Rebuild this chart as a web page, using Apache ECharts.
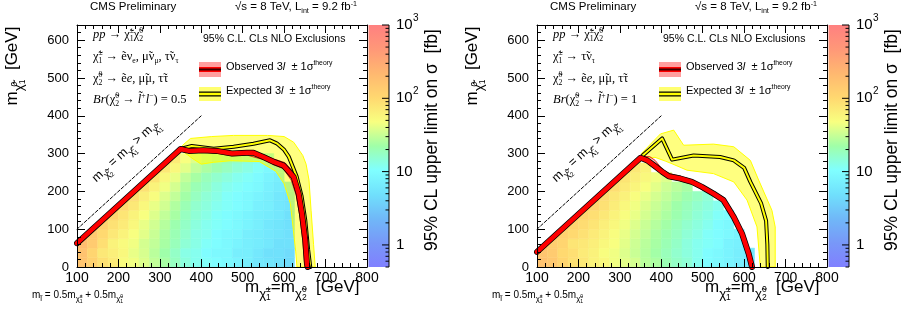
<!DOCTYPE html>
<html>
<head>
<meta charset="utf-8">
<script src="https://cdn.jsdelivr.net/npm/echarts@6/dist/echarts.min.js"></script>
<style>
  html, body { margin: 0; padding: 0; background: #fff; }
  #chart { width: 912px; height: 322px; }
</style>
</head>
<body>
<div id="chart"></div>
<script>
// grid of the limit scan: lower bin edges (GeV)
const STEP = 25;
const massX = [100,125,150,175,200,225,250,275,300,325,350,375,400,425,450,475,500,525,550,575,600];
const massY = [0,25,50,75,100,125,150,175,200,225,250,275,300];
const _ = null;

// 95% CL upper limit on sigma [fb], rows = massY, cols = massX  (Br = 0.5)
const limitsBr05 = [
  [160,120, 85, 70, 52, 45, 38, 30, 24, 18, 14, 12, 11, 10,  9,  8,  7,  6,5.5,  5,4.5],
  [170,110, 75, 65, 55, 42, 36, 28, 22, 17, 13, 12, 10,  9,  9,  7,  7,  6,  5,  5,4.5],
  [200,140, 90, 60, 52, 45, 35, 30, 24, 19, 15, 13, 11, 10,  9,  8,  7,6.5,  6,  5,  5],
  [230,150,100, 75, 60, 48, 40, 32, 25, 20, 16, 13, 12, 10,  9,8.5,  7,6.5,  6,5.5,  5],
  [ _, 180,120, 85, 70, 55, 42, 34, 27, 21, 17, 14, 12, 11, 10,  9,  8,  7,  6,5.5,  5],
  [ _,  _, 160,110, 80, 60, 48, 38, 30, 24, 18, 15, 13, 11, 10,  9,  8,  7,6.5,  6,  5],
  [ _,  _,  _, 150,100, 75, 55, 42, 34, 26, 20, 16, 14, 12, 11, 10,  9,7.5,  7,  6,5.5],
  [ _,  _,  _,  _, 140, 95, 65, 50, 38, 30, 23, 18, 15, 13, 11, 10,  9,  8,  7,  6,5.5],
  [ _,  _,  _,  _,  _, 130, 85, 60, 45, 35, 26, 20, 17, 14, 12, 11, 10,  9,7.5,6.5,  6],
  [ _,  _,  _,  _,  _,  _, 120, 80, 55, 42, 30, 24, 19, 16, 14, 12, 11,9.5,  8,  7,  _],
  [ _,  _,  _,  _,  _,  _,  _, 110, 75, 55, 40, 30, 25, 21, 18, 15, 13, 11,  9,  8,  _],
  [ _,  _,  _,  _,  _,  _,  _,  _, 100, 70, 48, 38, 30, 25, 21, 18, 15, 13, 11,  _,  _],
  [ _,  _,  _,  _,  _,  _,  _,  _,  _,  90,  _,  _,  _,  _,  _,  _,  _,  _,  _,  _,  _]
];

// same, Br = 1
const limitsBr1 = [
  [170,150,110, 85, 75, 60, 55, 45, 40, 35, 28, 25, 20, 17, 15, 12, 10,  9,  8,  7,  6],
  [160,140,100, 90, 70, 62, 50, 45, 38, 32, 27, 23, 19, 16, 14, 12, 10,  9,  8,  7,  6],
  [180,130,110, 80, 75, 65, 55, 48, 40, 33, 28, 24, 20, 17, 14, 12, 11, 10,  8,7.5,  _],
  [ _, 170,120,100, 85, 70, 60, 50, 42, 35, 30, 25, 21, 18, 15, 13, 11, 10,  9,  8,  _],
  [ _,  _, 150,110, 95, 80, 65, 55, 45, 38, 32, 27, 23, 19, 16, 14, 12, 10,  9,  _,  _],
  [ _,  _,  _, 140,110, 90, 75, 60, 50, 42, 35, 30, 25, 21, 18, 15, 13, 11, 10,  _,  _],
  [ _,  _,  _,  _, 130,105, 85, 68, 55, 45, 38, 32, 27, 22, 19, 16, 14, 12,  _,  _,  _],
  [ _,  _,  _,  _,  _, 120, 95, 75, 62, 50, 42, 35, 30, 25, 21, 18, 15,  _,  _,  _,  _],
  [ _,  _,  _,  _,  _,  _, 110, 90, 70, 58, 48, 40, 33, 28, 24,  _,  _,  _,  _,  _,  _],
  [ _,  _,  _,  _,  _,  _,  _, 100, 80, 65, 55, 45, 38,  _,  _,  _,  _,  _,  _,  _,  _],
  [ _,  _,  _,  _,  _,  _,  _,  _,  95, 75, 60,  _,  _,  _,  _,  _,  _,  _,  _,  _,  _],
  [ _,  _,  _,  _,  _,  _,  _,  _,  _,  85,  _,  _,  _,  _,  _,  _,  _,  _,  _,  _,  _],
  [ _,  _,  _,  _,  _,  _,  _,  _,  _,   _,  _,  _,  _,  _,  _,  _,  _,  _,  _,  _,  _]
];

// kinematic edge of the scan: m(chi1) = m(chi2) - offset
const diagOffsetBr05 = 37.5;
const diagOffsetBr1 = 60;

// exclusion contours [m(chi2), m(chi1)]
const obsBr05 = [[100,63],[350,312],[370,307],[405,309],[438,307],[474,300],[510,302],[526,302],[550,291],[575,278],[599,268],[623,238],[635,194],[643,141],[651,71],[655,9],[657,0]];
const obsBr05Low = [[355,305],[405,303],[440,300],[475,294],[510,296],[550,284],[575,270],[598,260],[617,230],[629,190],[637,140],[645,70],[650,0]];
const obsBr05High = [[352,316],[370,312],[405,314],[440,312],[475,305],[510,307],[550,297],[577,285],[602,276],[627,246],[640,198],[648,142],[656,72],[662,0]];
const expBr05 = [[350,312],[377,320],[430,313],[478,318],[526,326],[566,335],[582,327],[600,310],[611,292],[630,240],[642,188],[651,124],[658,45],[663,0]];
const expBr05Up = [[355,322],[374,340],[425,345],[478,348],[560,348],[600,345],[623,330],[645,295],[653,272],[660,230],[665,150],[671,60],[675,0]];
const expBr05Down = [[350,310],[380,286],[400,272],[430,277],[470,281],[540,279],[580,253],[600,220],[615,168],[622,100],[628,40],[631,0]];

const obsBr1 = [[100,40],[350,289],[366,282],[382,269],[402,252],[418,240],[446,234],[474,225],[498,212],[526,194],[550,177],[575,132],[595,88],[611,35],[619,0]];
const obsBr1Low = [[365,276],[382,262],[402,245],[420,234],[446,228],[474,219],[498,205],[526,188],[550,170],[572,128],[591,85],[606,33],[614,0]];
const obsBr1High = [[352,292],[372,292],[385,282],[403,258],[420,247],[446,240],[474,231],[498,218],[526,200],[552,183],[578,137],[598,92],[614,38],[623,0]];
const expBr1 = [[355,295],[402,340],[426,284],[478,295],[542,291],[575,282],[600,262],[615,225],[641,168],[653,122],[656,60],[657,0]];
const expBr1Up = [[352,300],[398,352],[430,362],[454,322],[526,325],[575,318],[615,282],[635,230],[667,150],[675,106],[675,0]];
const expBr1Down = [[360,287],[385,290],[410,280],[426,273],[462,256],[526,247],[575,225],[607,177],[631,106],[636,40],[639,0]];

const diagonalLine = [[100,100],[400,400]];

// colour scale (log10 of sigma limit)
const CB_MIN = Math.log10(0.5);
const CB_MAX = 3;
const PALETTE = ['#8080ff','#7898f8','#70b8f8','#70e0fc','#80ffff','#a0ffa8','#f8ff80','#ffd870','#ffb870','#ff9878','#ff8080'];
const cbTickValues = [0.5,0.6,0.7,0.8,0.9,1,2,3,4,5,6,7,8,9,10,20,30,40,50,60,70,80,90,100,200,300,400,500,600,700,800,900,1000];
const cbLabelValues = [1, 10, 100, 1000];
const cbLabelBase = ['1', '10', '10', '10'];
const cbLabelExp = ['', '', '2', '3'];

const SANS = '"Liberation Sans", Arial, sans-serif';
const SERIF = '"Liberation Serif", "DejaVu Serif", serif';

function cells(rows) {
  const out = [];
  rows.forEach((row, j) => row.forEach((v, i) => {
    if (v != null) out.push([massX[i], massY[j], Math.log10(v)]);
  }));
  return out;
}

// keep the part of a polygon that lies below y = x - d
function clipBelowDiagonal(pts, d) {
  const f = p => p[0] - d - p[1];
  const out = [];
  for (let i = 0; i < pts.length; i++) {
    const a = pts[i], b = pts[(i + 1) % pts.length];
    const fa = f(a), fb = f(b);
    if (fa >= 0) out.push(a);
    if ((fa >= 0) !== (fb >= 0)) {
      const t = fa / (fa - fb);
      out.push([a[0] + t * (b[0] - a[0]), a[1] + t * (b[1] - a[1])]);
    }
  }
  return out;
}

function heatSeries(rows, axis, diag) {
  return {
    type: 'custom', xAxisIndex: axis, yAxisIndex: axis, data: cells(rows),
    encode: { x: 0, y: 1 }, clip: true, silent: true, z: 1,
    renderItem(params, api) {
      const x0 = api.value(0), y0 = api.value(1);
      const poly = clipBelowDiagonal([[x0, y0], [x0 + STEP, y0], [x0 + STEP, y0 + STEP], [x0, y0 + STEP]], diag);
      if (poly.length < 3) return null;
      const color = api.visual('color');
      return { type: 'polygon', shape: { points: poly.map(p => api.coord(p)) },
        style: { fill: color, stroke: color, lineWidth: 0.5 } };
    }
  };
}

function bandSeries(upper, lower, axis, fill, stroke, z) {
  const pts = upper.concat(lower.slice().reverse());
  return {
    type: 'custom', xAxisIndex: axis, yAxisIndex: axis, data: pts,
    encode: { x: 0, y: 1 }, clip: true, silent: true, z,
    renderItem(params, api) {
      if (params.dataIndex !== 0) return null;
      return { type: 'polygon', shape: { points: pts.map(p => api.coord(p)) },
        style: { fill, stroke, lineWidth: 1 } };
    }
  };
}

function lineSeries(data, axis, color, width, z, type) {
  return {
    type: 'line', xAxisIndex: axis, yAxisIndex: axis, data, symbol: 'none',
    silent: true, z, clip: true,
    lineStyle: { color, width, type: type || 'solid', join: 'round', cap: 'round' }
  };
}

function colorbarSeries(axis) {
  return {
    type: 'custom', xAxisIndex: axis, yAxisIndex: axis, data: [[0, CB_MIN]], silent: true, z: 1,
    renderItem(params, api) {
      const a = api.coord([0, CB_MIN]), b = api.coord([1, CB_MAX]);
      const grad = new echarts.graphic.LinearGradient(0, 1, 0, 0,
        PALETTE.map((c, i) => ({ offset: i / (PALETTE.length - 1), color: c })));
      const children = [
        { type: 'rect', shape: { x: a[0], y: b[1], width: b[0] - a[0], height: a[1] - b[1] }, style: { fill: grad } },
        { type: 'line', shape: { x1: b[0], y1: b[1], x2: b[0], y2: a[1] }, style: { stroke: '#000', lineWidth: 1 } }
      ];
      cbTickValues.forEach(v => {
        const p = api.coord([1, Math.log10(v)]);
        const major = cbLabelValues.indexOf(v) >= 0;
        children.push({ type: 'line', shape: { x1: p[0], y1: p[1], x2: p[0] - (major ? 7 : 3.5), y2: p[1] },
          style: { stroke: '#000', lineWidth: 1 } });
      });
      cbLabelValues.forEach((v, i) => {
        const p = api.coord([1, Math.log10(v)]);
        children.push({ type: 'text', x: p[0] + 7, y: p[1],
          style: { text: cbLabelBase[i], fill: '#000', font: '15px ' + SANS, textAlign: 'left', textVerticalAlign: 'middle' } });
        if (cbLabelExp[i]) {
          children.push({ type: 'text', x: p[0] + 24, y: p[1] - 7,
            style: { text: cbLabelExp[i], fill: '#000', font: '10px ' + SANS, textAlign: 'left', textVerticalAlign: 'middle' } });
        }
      });
      return { type: 'group', children };
    }
  };
}

function frameAxis(grid, pos, min, max, labels, size) {
  return {
    type: 'value', gridIndex: grid, position: pos, min, max, interval: 100, z: 10,
    axisLine: { show: true, onZero: false, lineStyle: { color: '#000', width: 1 } },
    axisTick: { show: true, inside: true, length: 8, lineStyle: { color: '#000' } },
    minorTick: { show: true, splitNumber: 5, length: 4, lineStyle: { color: '#000' } },
    splitLine: { show: false }, minorSplitLine: { show: false },
    axisLabel: { show: labels, color: '#000', fontFamily: SANS, fontSize: size,
      margin: pos === 'bottom' ? 4 : 8, showMaxLabel: pos === 'bottom' }
  };
}

function hiddenAxis(grid, min, max) {
  return { type: 'value', gridIndex: grid, min, max, show: false };
}

// rich text styles for ROOT-like sub/superscripts
function mathRich(s, fam) {
  const P = 0.45 * s;
  const tok = (k, b, stack, italic) => {
    const fs = s * k;
    const o = { fontSize: fs, fontFamily: fam, fill: '#000', lineHeight: fs * 1.1, verticalAlign: 'bottom',
      padding: [0, 0, Math.max(0, P + b * s + 0.25 * s - 0.25 * fs), 0] };
    if (stack) o.width = 0;
    if (italic) o.fontStyle = 'italic';
    return o;
  };
  return {
    n: tok(1, 0), i: tok(1, 0, false, true),
    P: tok(0.62, 0.42), p: tok(0.62, 0.42, true), q: tok(0.62, -0.2),
    c: tok(0.78, -0.35), cp: tok(0.5, -0.05, true), cq: tok(0.5, -0.53)
  };
}

function txt(x, y, text, size, fam, extra) {
  return Object.assign({
    type: 'text', x, y, silent: true, z: 100,
    style: { text, fill: '#000', fontSize: size, fontFamily: fam, align: 'left', verticalAlign: 'middle', rich: mathRich(size, fam) }
  }, extra || {});
}

function panelGraphics(dx, decay, br) {
  const g = [];
  g.push(txt(90 + dx, 12, '{n|CMS Preliminary}', 11.5, SANS));
  g.push(txt(235 + dx, 12, '{n|√s = 8 TeV, L}{q|int}{n| = 9.2 fb}{P|-1}', 11.5, SANS));
  g.push(txt(203 + dx, 44, '{n|95% C.L. CLs NLO Exclusions}', 10.5, SANS));
  g.push(txt(226 + dx, 71, '{n|Observed 3}{i|l}{n|  ± 1σ}{P|theory}', 11, SANS));
  g.push(txt(226 + dx, 95, '{n|Expected 3}{i|l}{n|  ± 1σ}{P|theory}', 11, SANS));
  // legend swatches
  g.push({ type: 'rect', z: 99, silent: true, shape: { x: 199 + dx, y: 62, width: 22, height: 15 }, style: { fill: 'rgba(255,80,80,0.55)' } });
  g.push({ type: 'line', z: 99, silent: true, shape: { x1: 199 + dx, y1: 69.5, x2: 221 + dx, y2: 69.5 }, style: { stroke: '#ff0000', lineWidth: 5 } });
  g.push({ type: 'line', z: 99, silent: true, shape: { x1: 199 + dx, y1: 69.5, x2: 221 + dx, y2: 69.5 }, style: { stroke: '#3a0000', lineWidth: 2 } });
  g.push({ type: 'rect', z: 99, silent: true, shape: { x: 199 + dx, y: 87, width: 22, height: 14 }, style: { fill: '#ffff70' } });
  g.push({ type: 'line', z: 99, silent: true, shape: { x1: 199 + dx, y1: 94, x2: 221 + dx, y2: 94 }, style: { stroke: '#000', lineWidth: 5 } });
  g.push({ type: 'line', z: 99, silent: true, shape: { x1: 199 + dx, y1: 94, x2: 221 + dx, y2: 94 }, style: { stroke: '#ffff00', lineWidth: 2.5 } });
  // process description
  g.push(txt(93 + dx, 40, '{i|pp}{n| → χ̃}{p|±}{q|1}{n|χ̃}{p|0}{q|2}', 12.5, SERIF));
  g.push(txt(93 + dx, 62, decay, 12.5, SERIF));
  g.push(txt(93 + dx, 84, '{n|χ̃}{p|0}{q|2}{n| → ẽ}{i|e}{n|, μ̃μ, τ̃τ}', 12.5, SERIF));
  g.push(txt(93 + dx, 105, '{i|Br}{n|(χ̃}{p|0}{q|2}{n| → }{i|l̃}{P|+}{i|l}{P|−}{n|) = ' + br + '}', 12.5, SERIF));
  // diagonal label
  const dl = txt(129 + dx, 155, '{n|m}{c|χ̃}{cp|0}{cq|2}{n| = m}{c|χ̃}{cp|±}{cq|1}{n| > m}{c|χ̃}{cp|0}{cq|1}', 12.5, SANS,
    { rotation: 0.74 });
  dl.style.align = 'center';
  g.push(dl);
  // axis titles
  const yt = txt(19 + dx, 66, '{n|m}{c|χ̃}{cp|0}{cq|1}{n|  [GeV]}', 17, SANS, { rotation: Math.PI / 2 });
  yt.style.align = 'center';
  g.push(yt);
  g.push(txt(245 + dx, 294, '{n|m}{c|χ̃}{cp|±}{cq|1}{n|=m}{c|χ̃}{cp|0}{cq|2}{n|  [GeV]}', 17, SANS));
  g.push(txt(32 + dx, 299, '{n|m}{c|l̃}{n| = 0.5m}{c|χ̃}{cp|±}{cq|1}{n| + 0.5m}{c|χ̃}{cp|0}{cq|1}', 10, SANS));
  const zt = txt(439 + dx, 140, '{n|95% CL upper limit on σ  [fb]}', 17.5, SANS, { rotation: Math.PI / 2 });
  zt.style.align = 'center';
  g.push(zt);
  return g;
}

const chart = echarts.init(document.getElementById('chart'), null, { renderer: 'canvas' });

chart.setOption({
  animation: false,
  backgroundColor: '#fff',
  grid: [
    { left: 77, top: 25, width: 290, height: 242 },
    { left: 537, top: 25, width: 290, height: 242 },
    { left: 368.5, top: 25, width: 20.5, height: 242 },
    { left: 828.5, top: 25, width: 20.5, height: 242 }
  ],
  xAxis: [
    frameAxis(0, 'bottom', 100, 800, true, 14),
    frameAxis(0, 'top', 100, 800, false, 14),
    frameAxis(1, 'bottom', 100, 800, true, 14),
    frameAxis(1, 'top', 100, 800, false, 14),
    hiddenAxis(2, 0, 1),
    hiddenAxis(3, 0, 1)
  ],
  yAxis: [
    frameAxis(0, 'left', 0, 640, true, 13),
    frameAxis(0, 'right', 0, 640, false, 13),
    frameAxis(1, 'left', 0, 640, true, 13),
    frameAxis(1, 'right', 0, 640, false, 13),
    hiddenAxis(2, CB_MIN, CB_MAX),
    hiddenAxis(3, CB_MIN, CB_MAX)
  ],
  visualMap: {
    type: 'continuous', show: false, min: CB_MIN, max: CB_MAX, dimension: 2,
    seriesIndex: [0, 1], inRange: { color: PALETTE }
  },
  series: [
    heatSeries(limitsBr05, 0, diagOffsetBr05),
    heatSeries(limitsBr1, 2, diagOffsetBr1),
    // left panel
    bandSeries(expBr05Up, expBr05Down, 0, 'rgba(255,255,0,0.5)', '#ffff00', 2),
    bandSeries(obsBr05High, obsBr05Low, 0, 'rgba(255,60,60,0.3)', 'rgba(220,0,0,0.8)', 3),
    lineSeries(diagonalLine, 0, '#000', 1, 3, [3, 2]),
    lineSeries(expBr05, 0, '#000', 4, 4),
    lineSeries(expBr05, 0, '#ffff00', 2, 5),
    lineSeries(obsBr05, 0, '#000', 6, 6),
    lineSeries(obsBr05, 0, '#ff0000', 4.5, 7),
    // right panel
    bandSeries(expBr1Up, expBr1Down, 2, 'rgba(255,255,0,0.5)', '#ffff00', 2),
    bandSeries(obsBr1High, obsBr1Low, 2, 'rgba(255,60,60,0.3)', 'rgba(220,0,0,0.8)', 3),
    lineSeries(diagonalLine, 2, '#000', 1, 3, [3, 2]),
    lineSeries(expBr1, 2, '#000', 4, 4),
    lineSeries(expBr1, 2, '#ffff00', 2, 5),
    lineSeries(obsBr1, 2, '#000', 6, 6),
    lineSeries(obsBr1, 2, '#ff0000', 4.5, 7),
    // colour bars
    colorbarSeries(4),
    colorbarSeries(5)
  ],
  graphic: panelGraphics(0, '{n|χ̃}{p|±}{q|1}{n| → ẽν}{q|e}{n|, μ̃ν}{q|μ}{n|, τ̃ν}{q|τ}', '0.5')
    .concat(panelGraphics(460, '{n|χ̃}{p|±}{q|1}{n| → τ̃ν}{q|τ}', '1'))
});
</script>
</body>
</html>
